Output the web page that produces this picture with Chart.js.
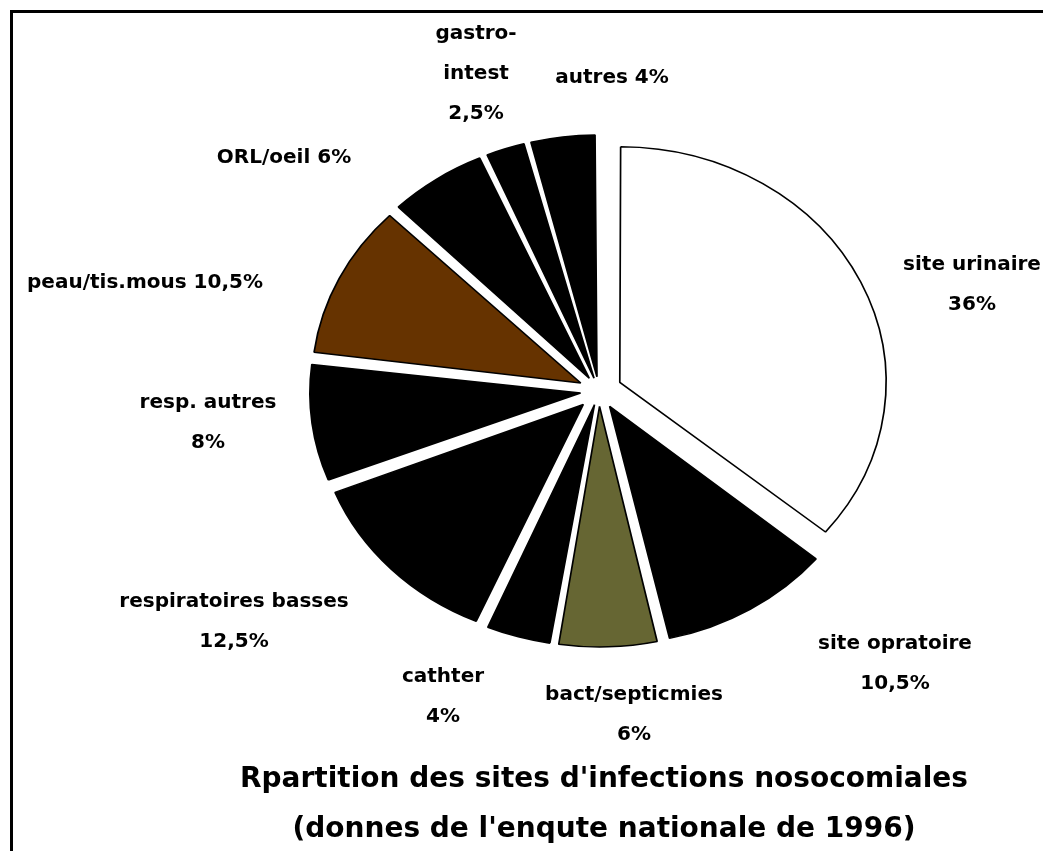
<!DOCTYPE html>
<html>
<head>
<meta charset="utf-8">
<script src="https://cdn.jsdelivr.net/npm/chart.js@4.4.0/dist/chart.umd.min.js"></script>
<style>
  html, body { margin: 0; background: #fff; }
  canvas { display: block; }
</style>
</head>
<body>
<canvas id="pieChart" width="1043" height="851"></canvas>
<script>
const categories = ['site urinaire', 'site opratoire', 'bact/septicmies', 'cathter', 'respiratoires basses',
  'resp. autres', 'peau/tis.mous', 'ORL/oeil', 'gastro-intest', 'autres'];
const shares = [36, 10.5, 6, 4, 12.5, 8, 10.5, 6, 2.5, 4];
const sliceColors = ['#ffffff', '#000000', '#666633', '#000000', '#000000',
  '#000000', '#663300', '#000000', '#000000', '#000000'];
const titleLines = ["Rpartition des sites d'infections nosocomiales", "(donnes de l'enqute nationale de 1996)"];

// label layout: percentage on the same line or below, block centre relative to the pie centre
const pctInline = [false, false, false, false, false, false, true, true, false, true];
const labelOffsets = [[373, -106], [296, 273], [35, 324], [-156, 306], [-365, 231],
  [-391, 32], [-454, -108], [-315, -233], [-123, -317], [13, -313]];

const GAP = 25;        // how far every slice is pulled out, px
const X_STRETCH = 1.13; // the original pie is a bit wider than tall
const total = shares.reduce((a, b) => a + b, 0);

// chart.js moves an arc by offset/4 * (2 - sin(circumference)), undo that so every slice moves GAP px
const offsets = shares.map(v => {
  const c = v / total * Math.PI * 2;
  return 4 * GAP / (2 - Math.sin(Math.min(Math.PI, c)));
});

const fmtPct = v => String(v).replace('.', ',') + '%';

const labelLines = categories.map((name, i) => {
  const pct = fmtPct(shares[i]);
  if (pctInline[i]) return [name + ' ' + pct];
  if (name.includes('-')) {
    const k = name.indexOf('-') + 1;
    return [name.slice(0, k), name.slice(k), pct];
  }
  return [name, pct];
});

const decor = {
  id: 'decor',
  beforeDraw(chart) {
    const ctx = chart.ctx;
    ctx.save();
    ctx.fillStyle = '#000';
    ctx.fillRect(10, 10, chart.width - 10, 3);
    ctx.fillRect(10, 10, 3, chart.height - 10);
    ctx.restore();
  },
  beforeDatasetsDraw(chart) {
    const ctx = chart.ctx;
    const arc = chart.getDatasetMeta(0).data[0];
    ctx.save();
    ctx.translate(arc.x, arc.y);
    ctx.scale(X_STRETCH, 1);
    ctx.translate(-arc.x, -arc.y);
  },
  afterDatasetsDraw(chart) {
    chart.ctx.restore();
  },
  afterDraw(chart) {
    const ctx = chart.ctx;
    const arc = chart.getDatasetMeta(0).data[0];
    ctx.save();
    ctx.fillStyle = '#000';
    ctx.textAlign = 'center';
    ctx.textBaseline = 'middle';

    ctx.font = 'bold 20px "DejaVu Sans"';
    const lh = 40;
    labelLines.forEach((lines, i) => {
      const x = arc.x + labelOffsets[i][0];
      const y0 = arc.y + labelOffsets[i][1] - (lines.length - 1) * lh / 2;
      lines.forEach((t, j) => ctx.fillText(t, x, y0 + j * lh));
    });

    ctx.font = 'bold 28px "DejaVu Sans"';
    titleLines.forEach((t, j) => ctx.fillText(t, 604, 780 + j * 50));
    ctx.restore();
  }
};

new Chart(document.getElementById('pieChart').getContext('2d'), {
  type: 'pie',
  data: {
    labels: categories,
    datasets: [{
      data: shares,
      backgroundColor: sliceColors,
      borderColor: '#000000',
      borderWidth: 1.5,
      radius: 231,
      offset: offsets,
      hoverOffset: 0
    }]
  },
  options: {
    responsive: false,
    animation: false,
    events: [],
    layout: { padding: { left: 155, right: 0, top: 0, bottom: 69 } },
    plugins: {
      legend: { display: false },
      tooltip: { enabled: false }
    }
  },
  plugins: [decor]
});
</script>
</body>
</html>
